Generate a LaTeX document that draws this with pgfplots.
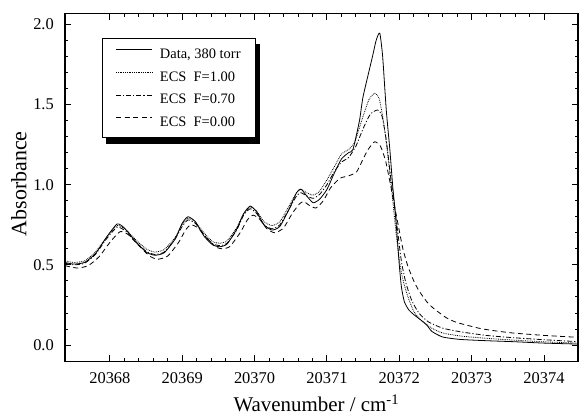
\documentclass[border=0pt]{standalone}
\usepackage{fontspec}
\setmainfont{Liberation Serif}
\usepackage{pgfplots}
\pgfplotsset{compat=1.18}
% x values are wavenumber - 20367 cm^-1 (tick labels give the full wavenumber)
\begin{document}
\begin{tikzpicture}
\begin{axis}[
  scale only axis, width=513bp, height=348.4bp,
  at={(0,0)}, anchor=south west,
  xmin=0.38, xmax=7.47, ymin=-0.104, ymax=2.069,
  xtick={1,2,3,4,5,6,7},
  xticklabels={20368,20369,20370,20371,20372,20373,20374},
  minor x tick num=4,
  ytick={0,0.5,1,1.5,2},
  yticklabels={0.0,0.5,1.0,1.5,2.0},
  minor y tick num=4,
  tick align=inside,
  major tick length=6.5bp, minor tick length=3.5bp,
  axis line style={line width=1.1bp},
  every tick/.style={line width=0.9bp, black},
  xticklabel style={font=\fontsize{16.5}{18}\selectfont, anchor=base, inner sep=0pt, yshift=-21.6bp},
  yticklabel style={font=\fontsize{16.5}{18}\selectfont, anchor=east, inner sep=0pt, xshift=-11bp},
  xlabel={Wavenumber / cm\textsuperscript{-1}},
  ylabel={Absorbance},
  every axis x label/.style={at={(rel axis cs:0.49,0)}, anchor=base, yshift=-50bp, font=\fontsize{21}{24}\selectfont},
  every axis y label/.style={at={([xshift=-46bp]rel axis cs:0,0.511)}, rotate=90, anchor=center, font=\fontsize{22}{24}\selectfont},
  legend image code/.code={\draw[#1] (0bp,4.5bp) -- (36bp,4.5bp);},
  legend style={at={(rel axis cs:0.0715,0.928)}, anchor=north west, name=leg,
    draw=black, line width=0.9bp, fill=white,
    inner xsep=13.5bp, inner ysep=9bp,
    row sep=9.5bp, column sep=6.5bp,
    font=\fontsize{14.5}{16}\selectfont,
    nodes={inner sep=1bp},
    cells={anchor=west}},
]
\addplot[black, line width=0.8bp, smooth, tension=0.35] coordinates {
(0.38,0.515) (0.50,0.505) (0.65,0.515) (0.80,0.57) (0.95,0.67) (1.10,0.755)
(1.20,0.73) (1.35,0.65) (1.50,0.58) (1.62,0.560) (1.75,0.575) (1.90,0.66)
(2.00,0.76) (2.08,0.800) (2.18,0.77) (2.30,0.68) (2.42,0.625) (2.52,0.613)
(2.62,0.63) (2.75,0.72) (2.85,0.82) (2.94,0.867) (3.03,0.83) (3.13,0.75)
(3.24,0.717) (3.35,0.74) (3.48,0.85) (3.58,0.95) (3.64,0.973) (3.72,0.93)
(3.81,0.887) (3.90,0.91) (4.00,0.97) (4.10,1.07) (4.20,1.16) (4.30,1.20)
(4.36,1.22) (4.45,1.40) (4.50,1.55) (4.63,1.80) (4.68,1.90) (4.73,1.945)
(4.77,1.80) (4.82,1.466) (4.87,1.216) (4.91,0.987) (4.94,0.85) (4.97,0.68)
(5.00,0.50) (5.03,0.36) (5.07,0.27) (5.13,0.22) (5.20,0.19) (5.30,0.155)
(5.38,0.125) (5.45,0.085) (5.60,0.05) (5.84,0.035) (6.20,0.027) (6.57,0.021)
(7.00,0.012) (7.47,0.006)
};
\addlegendentry{Data, 380 torr}
\addplot[black, line width=0.8bp, densely dotted, smooth, tension=0.35] coordinates {
(0.38,0.525) (0.50,0.515) (0.65,0.525) (0.80,0.58) (0.95,0.67) (1.10,0.745)
(1.22,0.72) (1.35,0.66) (1.50,0.60) (1.62,0.580) (1.75,0.595) (1.90,0.67)
(2.00,0.75) (2.08,0.790) (2.18,0.77) (2.30,0.70) (2.42,0.645) (2.52,0.635)
(2.62,0.65) (2.75,0.73) (2.85,0.82) (2.94,0.860) (3.03,0.835) (3.13,0.77)
(3.24,0.745) (3.35,0.77) (3.48,0.87) (3.58,0.95) (3.64,0.970) (3.72,0.95)
(3.81,0.935) (3.90,0.96) (4.00,1.03) (4.10,1.11) (4.20,1.19) (4.30,1.22)
(4.38,1.26) (4.48,1.40) (4.58,1.53) (4.66,1.57) (4.72,1.54) (4.78,1.40)
(4.85,1.15) (4.91,0.90) (4.96,0.68) (5.01,0.50) (5.06,0.39) (5.12,0.30)
(5.20,0.21) (5.30,0.155) (5.45,0.105) (5.60,0.075) (5.85,0.056) (6.20,0.042)
(6.57,0.031) (7.00,0.02) (7.47,0.012)
};
\addlegendentry{ECS\ \ F=1.00}
\addplot[black, line width=0.8bp, dash pattern=on 5bp off 2bp on 1.2bp off 2bp, smooth, tension=0.35] coordinates {
(0.38,0.51) (0.50,0.50) (0.65,0.51) (0.80,0.565) (0.95,0.66) (1.10,0.735)
(1.22,0.71) (1.35,0.645) (1.50,0.585) (1.62,0.565) (1.75,0.58) (1.90,0.66)
(2.00,0.74) (2.08,0.780) (2.18,0.76) (2.30,0.69) (2.42,0.632) (2.52,0.620)
(2.62,0.635) (2.75,0.715) (2.85,0.81) (2.94,0.850) (3.03,0.82) (3.13,0.75)
(3.24,0.725) (3.35,0.75) (3.48,0.85) (3.58,0.93) (3.64,0.950) (3.72,0.93)
(3.81,0.915) (3.90,0.94) (4.00,1.00) (4.10,1.08) (4.20,1.14) (4.30,1.17)
(4.40,1.24) (4.50,1.35) (4.60,1.44) (4.70,1.466) (4.76,1.43) (4.82,1.28)
(4.88,1.05) (4.93,0.88) (4.98,0.70) (5.03,0.52) (5.09,0.39) (5.17,0.28)
(5.27,0.20) (5.40,0.145) (5.60,0.105) (5.84,0.083) (6.20,0.06) (6.57,0.046)
(7.00,0.033) (7.47,0.021)
};
\addlegendentry{ECS\ \ F=0.70}
\addplot[black, line width=0.8bp, dash pattern=on 5bp off 3.5bp, smooth, tension=0.35] coordinates {
(0.38,0.495) (0.55,0.48) (0.70,0.495) (0.85,0.55) (1.00,0.64) (1.14,0.707)
(1.25,0.69) (1.40,0.62) (1.55,0.555) (1.66,0.535) (1.80,0.555) (1.95,0.64)
(2.05,0.72) (2.12,0.750) (2.22,0.73) (2.35,0.66) (2.47,0.61) (2.56,0.600)
(2.66,0.615) (2.80,0.70) (2.90,0.78) (2.98,0.810) (3.07,0.785) (3.17,0.725)
(3.28,0.700) (3.40,0.73) (3.52,0.82) (3.62,0.88) (3.68,0.895) (3.76,0.87)
(3.85,0.855) (3.95,0.90) (4.05,0.98) (4.18,1.04) (4.30,1.055) (4.41,1.08)
(4.50,1.16) (4.57,1.22) (4.66,1.268) (4.74,1.24) (4.81,1.15) (4.87,1.02)
(4.92,0.90) (4.98,0.76) (5.05,0.60) (5.12,0.49) (5.20,0.40) (5.27,0.34)
(5.38,0.27) (5.47,0.23) (5.65,0.17) (5.80,0.14) (6.10,0.105) (6.30,0.09)
(6.57,0.075) (7.00,0.06) (7.47,0.048)
};
\addlegendentry{ECS\ \ F=0.00}
\end{axis}
% drop shadow of the legend box: a strip on its right and one below it
\fill[black] ([yshift=-5.5bp]leg.north east) rectangle ([xshift=4.5bp,yshift=-5.5bp]leg.south east);
\fill[black] ([xshift=4.5bp]leg.south west) rectangle ([xshift=4.5bp,yshift=-5.5bp]leg.south east);
\pgfresetboundingbox
\path (-65bp,-53.3bp) rectangle (514bp,361.7bp);
\end{tikzpicture}
\end{document}
